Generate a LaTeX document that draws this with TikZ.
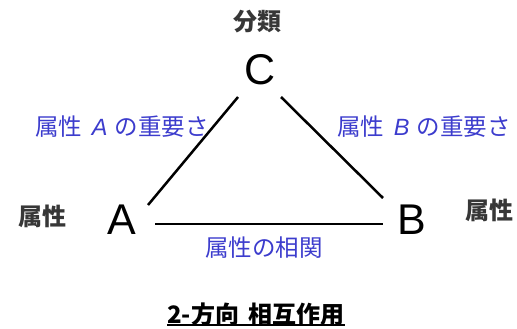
\documentclass[tikz,border=0pt]{standalone}
\usepackage{fontspec}
\setmainfont{Liberation Sans}
\newfontfamily\cjk{Noto Sans CJK JP}
\definecolor{lblblue}{RGB}{60,60,205}
\definecolor{darkgray}{RGB}{55,55,55}
\begin{document}
\begin{tikzpicture}[x=1pt,y=-1pt,
  letter/.style={font=\fontsize{43}{43}\selectfont, inner sep=0pt},
  bluelbl/.style={text=lblblue, font=\cjk\fontsize{23.5}{24}\selectfont, inner sep=0pt},
  boldlbl/.style={text=darkgray, font=\cjk\bfseries\fontsize{24}{24}\selectfont, inner sep=0pt},
  edge/.style={line width=2.5pt}]
\useasboundingbox (0,0) rectangle (517,329);
\node[letter] (C) at (260,70) {C};
\node[letter] (A) at (122,220) {A};
\node[letter] (B) at (412,220) {B};
\coordinate (c1) at (238,97);
\coordinate (a1) at (148,205);
\coordinate (c2) at (281,97);
\coordinate (b1) at (383,198);
\coordinate (a2) at (155,224);
\coordinate (b2) at (383,224);
\draw[edge] (c1) -- (a1);
\draw[edge] (c2) -- (b1);
\draw[edge] (a2) -- (b2);
\node[boldlbl] (cls) at (257,22) {分類};
\node[boldlbl] (attrA) at (43,216) {属性};
\node[boldlbl] (attrB) at (489,210) {属性};
\node[bluelbl] (impA) at (122,127) {属性\hspace{0.4em}{\fontspec{Liberation Sans}\itshape A}\hspace{0.3em}の重要さ};
\node[bluelbl] (impB) at (424,127) {属性\hspace{0.4em}{\fontspec{Liberation Sans}\itshape B}\hspace{0.3em}の重要さ};
\node[bluelbl] (corr) at (264,248) {属性の相関};
\node[boldlbl, text=black, font=\cjk\bfseries\fontsize{24}{25}\selectfont] (title) at (256,314) {2-方向\hspace{0.4em}相互作用};
\draw[line width=1.5pt] (title.south west) ++(0,-1) coordinate (u1) -- (u1 -| title.south east);
\end{tikzpicture}
\end{document}
